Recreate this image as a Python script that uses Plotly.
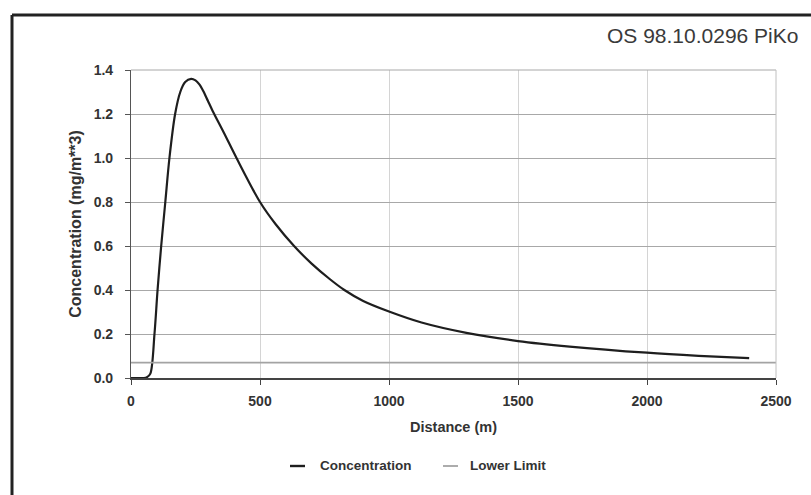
import plotly.graph_objects as go

# Concentration profile downwind of the source
distance_m = [0, 50, 62, 75, 91, 103, 117, 133, 149, 171, 191, 210, 233, 250, 265,
              280, 298, 316, 360, 409, 500, 560, 632, 700, 770, 827, 900,
              1000, 1126, 1300, 1500, 1700, 2000, 2200, 2396]
concentration = [0.0, 0.0, 0.004, 0.02, 0.2, 0.4, 0.6, 0.8, 1.0, 1.2, 1.3, 1.345, 1.36,
                 1.353, 1.335, 1.305, 1.26, 1.215, 1.115, 1.0, 0.8, 0.70, 0.60,
                 0.52, 0.45, 0.4, 0.35, 0.302, 0.252, 0.205, 0.168, 0.143, 0.115,
                 0.101, 0.09]

# Lower detection limit
limit_x = [0, 2500]
limit_y = [0.07, 0.07]

x_ticks = [0, 500, 1000, 1500, 2000, 2500]
y_ticks = [0.0, 0.2, 0.4, 0.6, 0.8, 1.0, 1.2, 1.4]

FONT = "Liberation Sans, Arial, sans-serif"
TEXT = "#333"

# plot area in pixels: used to express paper positions outside of it
W, H = 811, 495
L, R, T, B = 131, 35, 70, 117
PW, PH = W - L - R, H - T - B


def px_x(px):
    return (px - L) / PW


def px_y(py):
    return (H - B - py) / PH


series = [
    dict(name="Concentration", x=distance_m, y=concentration,
         line=dict(color="#1e1e1e", width=2.2, shape="spline", smoothing=0.9)),
    dict(name="Lower Limit", x=limit_x, y=limit_y,
         line=dict(color="#a3a3a3", width=1.6)),
]

fig = go.Figure()
for s in series:
    fig.add_trace(go.Scatter(x=s["x"], y=s["y"], name=s["name"], mode="lines",
                             line=s["line"], showlegend=False))

# legend row below the axis title: short line sample followed by the series name
legend_layout = [(290, 318), (443, 468)]  # (sample start, text start) in pixels
legend_y = px_y(466)
shapes = []
annotations = []
for s, (sx, tx) in zip(series, legend_layout):
    shapes.append(dict(type="line", xref="paper", yref="paper",
                       x0=px_x(sx), x1=px_x(sx + 15), y0=legend_y, y1=legend_y,
                       line=dict(color=s["line"]["color"], width=2.4 if s["name"] == "Concentration" else 1.8)))
    annotations.append(dict(text=s["name"], xref="paper", yref="paper",
                            x=px_x(tx), y=legend_y, xanchor="left", yanchor="middle",
                            showarrow=False,
                            font=dict(size=13.5, weight="bold", color=TEXT, family=FONT)))

# header label
annotations.append(dict(
    text="OS 98.10.0296 PiKo", xref="paper", yref="paper", x=px_x(800), y=px_y(36),
    xanchor="right", yanchor="middle", showarrow=False,
    font=dict(size=21, color="#3a3a3a", family=FONT),
))

shapes += [
    # light frame on the top and right of the plot area
    dict(type="line", xref="paper", yref="paper", x0=0, x1=1, y0=1, y1=1,
         line=dict(color="#a8a8a8", width=1)),
    dict(type="line", xref="paper", yref="paper", x0=1, x1=1, y0=0, y1=1,
         line=dict(color="#c0c0c0", width=1)),
    # outer border of the sheet
    dict(type="line", xref="paper", yref="paper", x0=px_x(12), x1=px_x(815),
         y0=px_y(15), y1=px_y(15), line=dict(color="#222", width=3)),
    dict(type="line", xref="paper", yref="paper", x0=px_x(12), x1=px_x(12),
         y0=px_y(500), y1=px_y(15), line=dict(color="#222", width=3)),
]

fig.update_layout(
    width=W, height=H,
    margin=dict(l=L, r=R, t=T, b=B),
    paper_bgcolor="white", plot_bgcolor="white",
    font=dict(family=FONT, color=TEXT),
    showlegend=False,
    xaxis=dict(
        range=[0, 2500], tickvals=x_ticks, ticktext=[str(v) for v in x_ticks],
        showgrid=True, gridcolor="#d4d4d4", gridwidth=1,
        showline=True, linecolor="#444", linewidth=1.5,
        ticks="outside", ticklen=5, tickcolor="#444", ticklabelstandoff=4,
        tickfont=dict(size=14, weight="bold", color=TEXT),
        title=dict(text="Distance (m)", font=dict(size=14.5, weight="bold", color=TEXT), standoff=14),
        zeroline=False,
    ),
    yaxis=dict(
        range=[0, 1.4], tickvals=y_ticks, ticktext=[f"{v:.1f}" for v in y_ticks],
        showgrid=True, gridcolor="#a8a8a8", gridwidth=1,
        showline=True, linecolor="#555", linewidth=1.2,
        ticks="outside", ticklen=5, tickcolor="#555", ticklabelstandoff=9,
        tickfont=dict(size=14, weight="bold", color=TEXT),
        title=dict(text="Concentration (mg/m**3)", font=dict(size=16, weight="bold", color=TEXT), standoff=8),
        zeroline=False,
    ),
    shapes=shapes,
    annotations=annotations,
)

fig.write_html("out.html")
